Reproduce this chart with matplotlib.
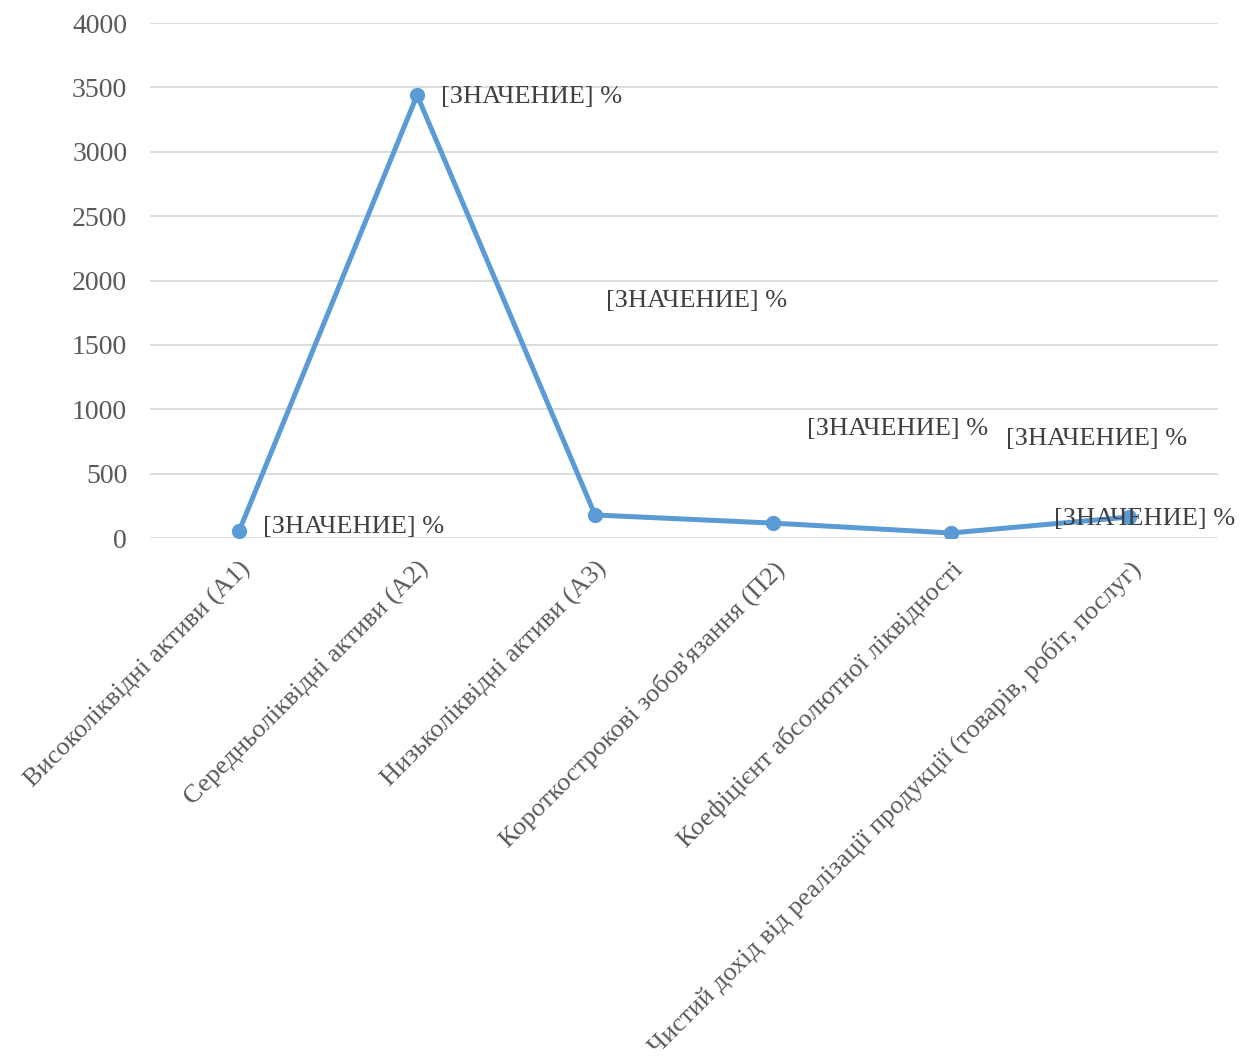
import matplotlib
matplotlib.use("Agg")
import matplotlib.pyplot as plt

categories = [
    "Високоліквідні активи (А1)",
    "Середньоліквідні активи (А2)",
    "Низьколіквідні активи (А3)",
    "Короткострокові зобов'язання (П2)",
    "Коефіцієнт абсолютної ліквідності",
    "Чистий дохід від реалізації продукції (товарів, робіт, послуг)",
]
values = [54, 3440, 179, 116, 39, 163]
label_text = "[ЗНАЧЕНИЕ] %"
# hand-moved data label positions (category index, value)
label_x = [0.135, 1.135, 2.06, 3.19, 4.31, 4.58]
label_y = [85, 3425, 1841, 847, 769, 148]

plt.rcParams["font.family"] = ["Liberation Serif", "DejaVu Serif"]
GREY = "#595959"

fig = plt.figure(figsize=(12.51, 10.56), dpi=100)
ax = fig.add_axes([0.12, 0.4905, 0.8536, 0.4877])

x = list(range(len(categories)))
ax.plot(x, values, color="#5B9BD5", linewidth=3.6, marker="o", markersize=10,
        solid_joinstyle="round", zorder=3)

for lx, ly in zip(label_x, label_y):
    ax.text(lx, ly, label_text, fontsize=19, color="#404040", ha="left", va="center",
            zorder=4)

ax.set_xlim(-0.5, len(categories) - 0.5)
ax.set_ylim(0, 4000)
ax.set_yticks(range(0, 4001, 500))
ax.yaxis.grid(True, color="#D9D9D9", linewidth=1.3)
ax.set_axisbelow(True)
for s in ax.spines.values():
    s.set_visible(False)
ax.tick_params(axis="both", length=0, labelcolor=GREY)
ax.tick_params(axis="y", pad=16.5, labelsize=20)
ax.set_xticks(x)
ax.set_xticklabels(categories, rotation=45, ha="right", va="top",
                   rotation_mode="anchor", fontsize=19)
ax.tick_params(axis="x", pad=14)

fig.savefig("out.png", dpi=100)
